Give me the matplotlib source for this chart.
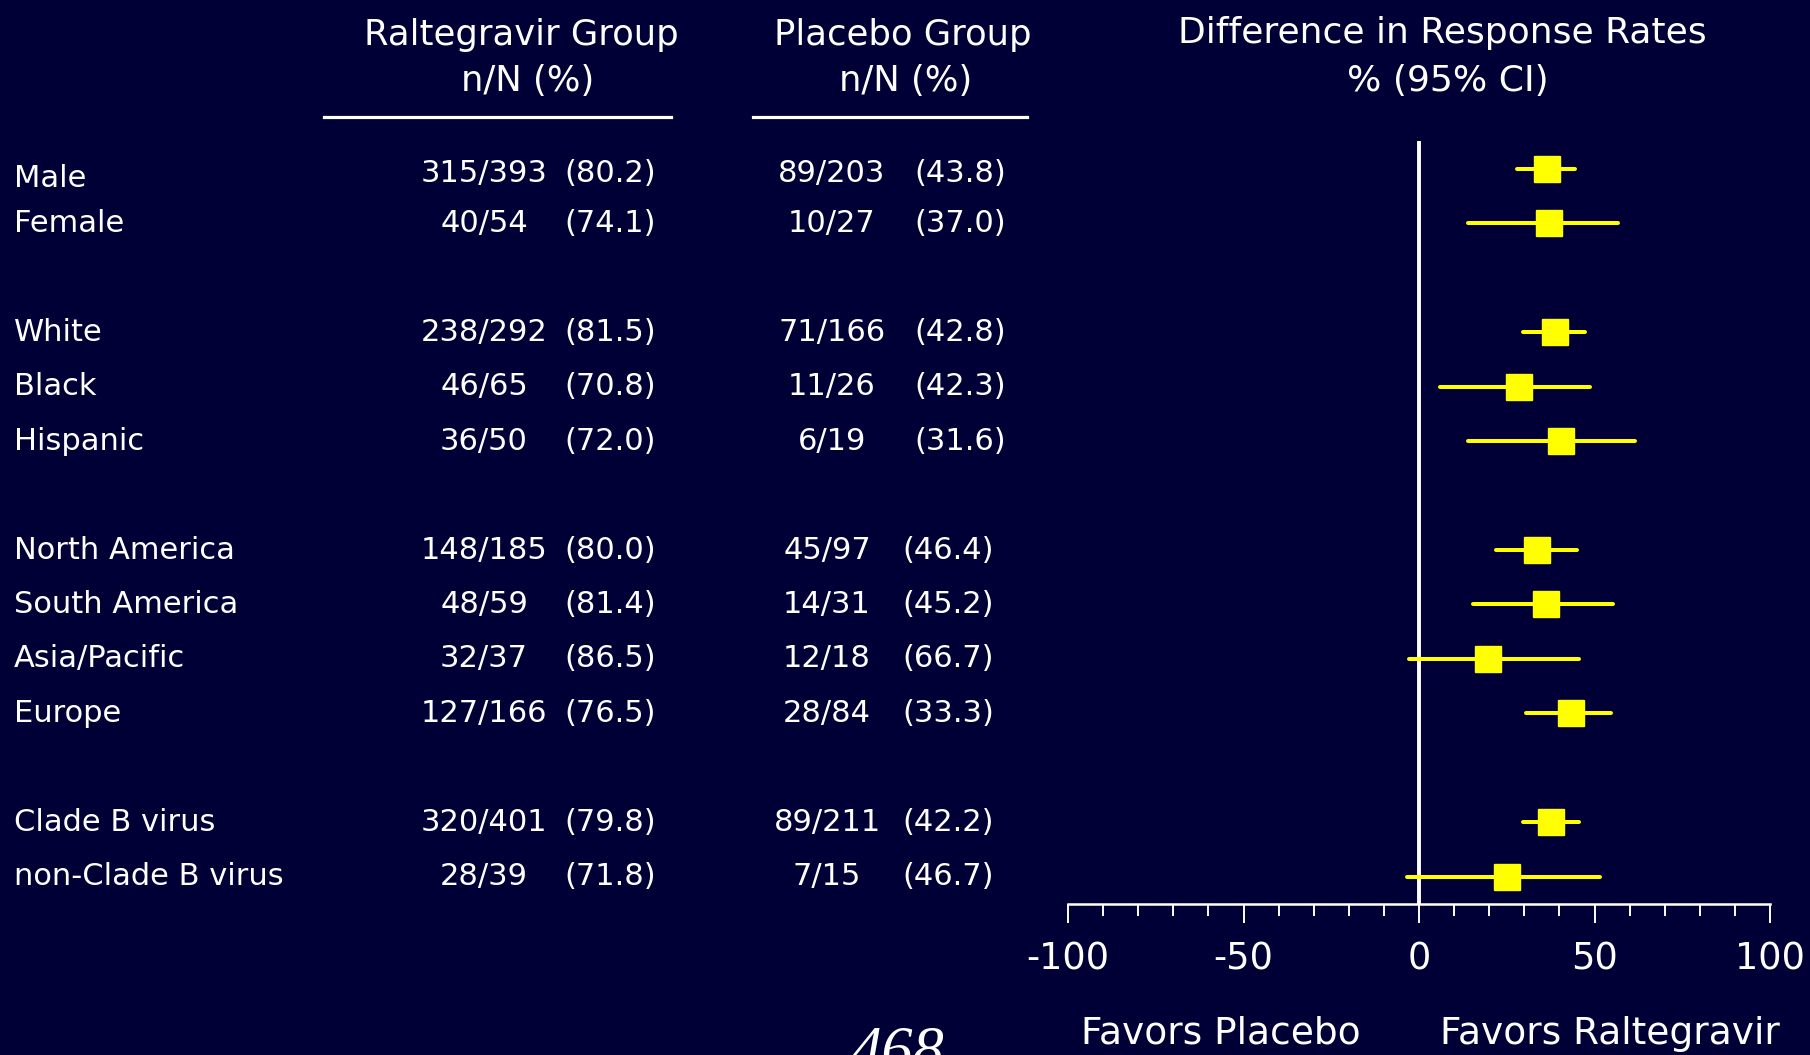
import matplotlib
matplotlib.use("Agg")
import matplotlib.pyplot as plt
from matplotlib import transforms
from matplotlib.lines import Line2D
from matplotlib.ticker import MultipleLocator

plt.rcParams["axes.unicode_minus"] = False

# ---------------- data ----------------
groups = [
    ["Male", "Female"],
    ["White", "Black", "Hispanic"],
    ["North America", "South America", "Asia/Pacific", "Europe"],
    ["Clade B virus", "non-Clade B virus"],
]
ral_n = ["315/393", "40/54", "238/292", "46/65", "36/50", "148/185", "48/59",
         "32/37", "127/166", "320/401", "28/39"]
ral_pct = ["(80.2)", "(74.1)", "(81.5)", "(70.8)", "(72.0)", "(80.0)", "(81.4)",
           "(86.5)", "(76.5)", "(79.8)", "(71.8)"]
pbo_n = ["89/203", "10/27", "71/166", "11/26", "6/19", "45/97", "14/31",
         "12/18", "28/84", "89/211", "7/15"]
pbo_pct = ["(43.8)", "(37.0)", "(42.8)", "(42.3)", "(31.6)", "(46.4)", "(45.2)",
           "(66.7)", "(33.3)", "(42.2)", "(46.7)"]
diff = [36.4, 37.1, 38.7, 28.5, 40.4, 33.6, 36.2, 19.8, 43.2, 37.6, 25.1]
ci_low = [28.0, 14.1, 29.7, 6.0, 14.0, 21.8, 15.3, -2.9, 30.5, 29.7, -3.5]
ci_high = [44.4, 56.7, 47.4, 48.8, 61.4, 45.1, 55.3, 45.5, 54.7, 45.6, 51.6]
x_ticks = [-100, -50, 0, 50, 100]

# ---------------- layout helpers ----------------
BG = "#000036"
W, H = 1810, 1055
FONT = "DejaVu Sans"

labels = [lab for g in groups for lab in g]
row_y, row_grp = [], []
pos = 0
for gi, g in enumerate(groups):
    for _ in g:
        row_y.append(pos)
        row_grp.append(gi)
        pos += 1
    pos += 1

fig = plt.figure(figsize=(W / 100, H / 100), dpi=100, facecolor=BG)

def fx(px):
    return px / W

def fy(py):
    return 1 - py / H

ax_left, ax_right, ax_top, ax_bot = 1068, 1770, 141, 904
ax = fig.add_axes([fx(ax_left), fy(ax_bot), fx(ax_right - ax_left), (ax_bot - ax_top) / H])
ax.set_facecolor(BG)
ax.set_xlim(-100, 100)
ax.set_ylim(13.5, -0.51)

for s in ["top", "left", "right"]:
    ax.spines[s].set_visible(False)
ax.spines["bottom"].set_color("white")
ax.spines["bottom"].set_linewidth(1.8)
ax.set_yticks([])
ax.set_xticks(x_ticks)
ax.xaxis.set_minor_locator(MultipleLocator(10))
ax.tick_params(axis="x", which="major", direction="out", length=13.5, width=1.4,
               color="white", labelcolor="white", labelsize=26.5, pad=13)
ax.tick_params(axis="x", which="minor", direction="out", length=8.5, width=1.4,
               color="white")
for t in ax.get_xticklabels():
    t.set_fontfamily(FONT)

ax.axvline(0, color="white", lw=2.8, zorder=2)

for i in range(len(diff)):
    ax.plot([ci_low[i], ci_high[i]], [row_y[i], row_y[i]], color="#FFFF00",
            lw=2.9, solid_capstyle="round", zorder=3)
ax.plot(diff, row_y, "s", color="#FFFF00", ms=19.4, mec="#FFFF00", zorder=4)

# ---------------- table text ----------------
tr = transforms.blended_transform_factory(fig.transFigure, ax.transData)
tkw = dict(color="white", fontsize=22, family=FONT, va="center", transform=tr)
for i, lab in enumerate(labels):
    y = row_y[i]
    late = row_grp[i] >= 2
    lab_dy = 0.18 if i == 0 else 0.0
    num_dy = 0.09 if i == 0 else 0.0
    fig.text(fx(14), y + lab_dy, lab, ha="left", **tkw)
    fig.text(fx(484), y + num_dy, ral_n[i], ha="center", **tkw)
    fig.text(fx(610), y + num_dy, ral_pct[i], ha="center", **tkw)
    fig.text(fx(827 if late else 832), y + num_dy, pbo_n[i], ha="center", **tkw)
    fig.text(fx(948 if late else 960), y + num_dy, pbo_pct[i], ha="center", **tkw)

# ---------------- headers ----------------
hkw = dict(color="white", family=FONT, ha="center", va="center")
fig.text(fx(521), fy(35), "Raltegravir Group", fontsize=25.5, **hkw)
fig.text(fx(528), fy(81), "n/N (%)", fontsize=25.5, **hkw)
fig.text(fx(903), fy(35), "Placebo Group", fontsize=25.5, **hkw)
fig.text(fx(906), fy(81), "n/N (%)", fontsize=25.5, **hkw)
fig.text(fx(1442), fy(33), "Difference in Response Rates", fontsize=26, **hkw)
fig.text(fx(1448), fy(81), "% (95% CI)", fontsize=26, **hkw)

for x0, x1 in [(324, 671), (753, 1027)]:
    fig.add_artist(Line2D([fx(x0), fx(x1)], [fy(117), fy(117)], color="white",
                          lw=2.3, transform=fig.transFigure))

fig.text(fx(1221), fy(1034), "Favors Placebo", fontsize=27, **hkw)
fig.text(fx(1610), fy(1034), "Favors Raltegravir", fontsize=27, **hkw)

fig.text(fx(898), fy(1069), "468", fontsize=45, color="white",
         family="Liberation Serif", style="italic", ha="center", va="baseline")

fig.savefig("out.png", dpi=100, facecolor=BG)
